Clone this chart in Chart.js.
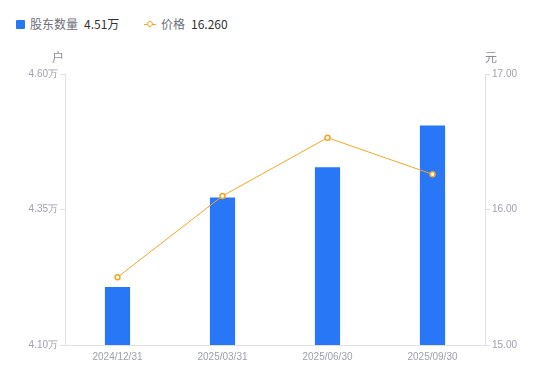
<!DOCTYPE html>
<html>
<head>
<meta charset="utf-8">
<script src="https://cdn.jsdelivr.net/npm/chart.js@4/dist/chart.umd.min.js"></script>
<style>
  html, body { margin: 0; padding: 0; background: #fff; }
  body { width: 550px; height: 381px; position: relative; overflow: hidden;
         font-family: "Noto Sans CJK SC", "Noto Sans", sans-serif; }
  #wrap { position: absolute; left: 0; top: 0; width: 550px; height: 381px; }
  .legend { position: absolute; top: 15px; left: 16px; font-size: 12px; line-height: 18px; white-space: nowrap; }
  .legend .item { position: absolute; top: 0; }
  .legend .name { color: #6e7079; }
  .legend .val { color: #333; margin-left: 6px; }
  .sq { display: inline-block; width: 9px; height: 9px; background: #2777f6; border-radius: 1px; vertical-align: -0px; margin-right: 5px; }
  .mk { display: inline-block; position: relative; width: 12px; height: 9px; margin-right: 5px; vertical-align: 0px; }
  .mk:before { content: ""; position: absolute; left: 0; right: 0; top: 4px; height: 1px; background: #f5a623; }
  .mk:after { content: ""; position: absolute; left: 3px; top: 1px; width: 4px; height: 4px; border: 1.5px solid #f5a623; border-radius: 50%; background: #fff; }
</style>
</head>
<body>
<div class="legend">
  <span class="item" style="left:0"><span class="sq"></span><span class="name">股东数量</span><span class="val">4.51万</span></span>
  <span class="item" style="left:128px"><span class="mk"></span><span class="name">价格</span><span class="val">16.260</span></span>
</div>
<div id="wrap"><canvas id="c"></canvas></div>
<script>
const labels = ['2024/12/31', '2025/03/31', '2025/06/30', '2025/09/30'];
const holders = [4.207, 4.372, 4.428, 4.505];   // 万户
const prices = [15.50, 16.10, 16.53, 16.26]; // 元
const leftTicks = [4.10, 4.35, 4.60];
const rightTicks = [15, 16, 17];

const axisColor = '#e0e0e6';
const tickColor = '#9ea0ae';

const unitLabels = {
  id: 'unitLabels',
  afterDraw(chart) {
    const { ctx, chartArea } = chart;
    ctx.save();
    ctx.fillStyle = '#8a8c99';
    ctx.font = '12px "Noto Sans CJK SC", sans-serif';
    ctx.textBaseline = 'middle';
    ctx.textAlign = 'center';
    ctx.fillText('户', chartArea.left - 7, chartArea.top - 17);
    ctx.fillText('元', chartArea.right + 6, chartArea.top - 17);
    ctx.restore();
  },
};

new Chart(document.getElementById('c'), {
  data: {
    labels,
    datasets: [
      {
        type: 'line',
        label: '价格',
        data: prices,
        yAxisID: 'y1',
        borderColor: '#f5a623',
        borderWidth: 1,
        pointRadius: 2.5,
        pointBorderWidth: 1.5,
        pointBackgroundColor: '#fff',
        pointBorderColor: '#f5a623',
        tension: 0,
        order: 0,
      },
      {
        type: 'bar',
        label: '股东数量',
        data: holders,
        yAxisID: 'y',
        backgroundColor: '#2777f6',
        categoryPercentage: 1,
        barPercentage: 0.24,
        order: 1,
      },
    ],
  },
  options: {
    responsive: true,
    maintainAspectRatio: false,
    animation: false,
    layout: { padding: { top: 74, left: 0, right: 0, bottom: 0 } },
    plugins: { legend: { display: false }, tooltip: { enabled: false } },
    scales: {
      x: {
        grid: { drawOnChartArea: false, drawTicks: false },
        border: { display: true, color: axisColor },
        ticks: { color: tickColor, font: { size: 10 }, padding: 6, maxRotation: 0 },
        afterFit(scale) { scale.height = 36; },
      },
      y: {
        position: 'left',
        min: 4.10,
        max: 4.60,
        afterBuildTicks(scale) { scale.ticks = leftTicks.map(v => ({ value: v })); },
        grid: { drawOnChartArea: false, drawTicks: true, tickLength: 5, color: axisColor },
        border: { display: true, color: axisColor },
        ticks: { color: tickColor, font: { size: 10 }, padding: 2,
                 callback: v => v.toFixed(2) + '万' },
        afterFit(scale) { scale.width = 65; },
      },
      y1: {
        position: 'right',
        min: 15,
        max: 17,
        afterBuildTicks(scale) { scale.ticks = rightTicks.map(v => ({ value: v })); },
        grid: { drawOnChartArea: false, drawTicks: true, tickLength: 5, color: axisColor },
        border: { display: true, color: axisColor },
        ticks: { color: tickColor, font: { size: 10 }, padding: 2,
                 callback: v => v.toFixed(2) },
        afterFit(scale) { scale.width = 65; },
      },
    },
  },
  plugins: [unitLabels],
});
</script>
</body>
</html>
